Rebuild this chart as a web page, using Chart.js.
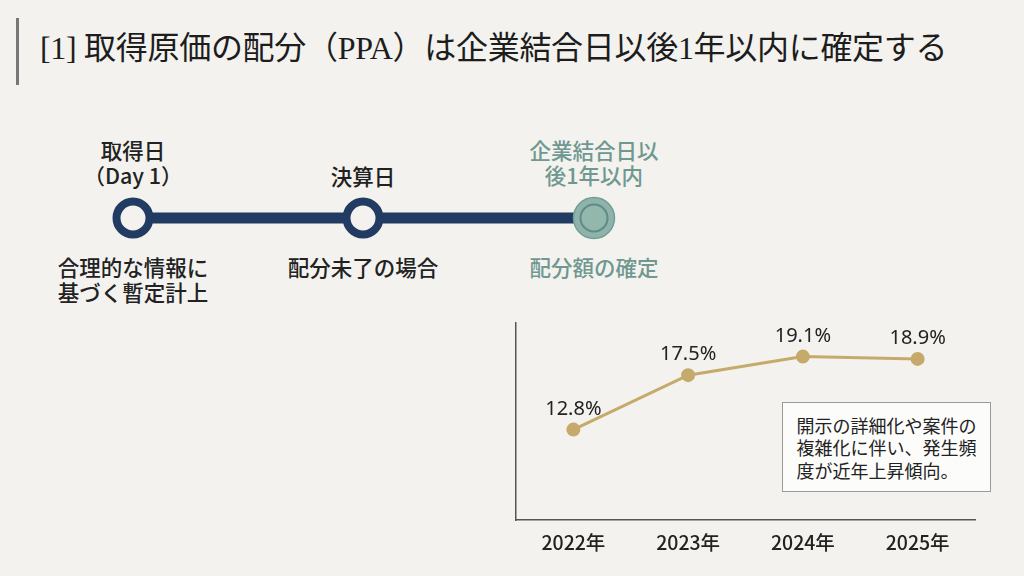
<!DOCTYPE html>
<html lang="ja">
<head>
<meta charset="utf-8">
<script src="https://cdn.jsdelivr.net/npm/chart.js@4.4.1/dist/chart.umd.min.js"></script>
<style>
  html, body { margin: 0; padding: 0; }
  body {
    width: 1024px; height: 576px; overflow: hidden; position: relative;
    background: #f3f2ee;
    font-family: "Noto Sans CJK JP", "Noto Sans", sans-serif;
    color: #222;
  }
  .bar { position: absolute; left: 16px; top: 18px; width: 3px; height: 67px; background: #777; }
  .title {
    position: absolute; left: 40px; top: 26px; font-size: 32px; line-height: 44px;
    font-family: "Liberation Serif", "Noto Sans CJK JP", serif; color: #1d1d1d;
    white-space: nowrap; letter-spacing: -0.3px; font-weight: 400;
  }
  .tl { position: absolute; left: 0; top: 0; }
  .lbl {
    position: absolute; width: 240px; margin-left: -120px; text-align: center;
    font-size: 21.5px; line-height: 25px; font-weight: 500; white-space: nowrap;
  }
  .teal { color: #6f9891; }
  #wrap { position: absolute; left: 0; top: 0; width: 1024px; height: 576px; }
  .note {
    position: absolute; left: 782px; top: 402px; width: 209px; height: 90px;
    box-sizing: border-box; border: 1.5px solid #9a9a9a; background: #fcfcfb;
    padding: 10.5px 0 0 13.5px; font-size: 18px; line-height: 22.5px; color: #222;
    white-space: nowrap;
  }
</style>
</head>
<body>
<div class="bar"></div>
<div class="title">[1] 取得原価の配分（PPA）は企業結合日以後1年以内に確定する</div>

<svg class="tl" width="1024" height="576">
  <line x1="133" y1="218" x2="594" y2="218" stroke="#213b63" stroke-width="11"/>
  <circle cx="133" cy="218" r="16.5" fill="#f3f2ee" stroke="#213b63" stroke-width="8"/>
  <circle cx="363" cy="218" r="16.5" fill="#f3f2ee" stroke="#213b63" stroke-width="8"/>
  <circle cx="594" cy="218" r="20.5" fill="#8fb3aa" stroke="#739e95" stroke-width="1.5"/>
  <circle cx="594" cy="218" r="13.5" fill="#93b6ad" stroke="#5f8c84" stroke-width="2"/>
</svg>

<div class="lbl" style="left:133px; top:137px;">取得日<br>（Day 1）</div>
<div class="lbl" style="left:363px; top:163px;">決算日</div>
<div class="lbl teal" style="left:594px; top:137px;">企業結合日以<br>後1年以内</div>
<div class="lbl" style="left:133px; top:254px;">合理的な情報に<br>基づく暫定計上</div>
<div class="lbl" style="left:363px; top:254px;">配分未了の場合</div>
<div class="lbl teal" style="left:594px; top:254px;">配分額の確定</div>

<div id="wrap"><canvas id="ppaChart"></canvas></div>
<div class="note">開示の詳細化や案件の<br>複雑化に伴い、発生頻<br>度が近年上昇傾向。</div>

<script>
  const years = ['2022年', '2023年', '2024年', '2025年'];
  const ppaRates = [12.8, 17.5, 19.1, 18.9];

  const lineColor = '#c6aa6b';
  const axisColor = '#555';

  // value labels above each point
  const valueLabels = {
    id: 'valueLabels',
    afterDatasetsDraw(chart) {
      const ctx = chart.ctx;
      const meta = chart.getDatasetMeta(0);
      ctx.save();
      ctx.font = '20px "Noto Sans", "Noto Sans CJK JP", sans-serif';
      ctx.fillStyle = '#222';
      ctx.textAlign = 'center';
      ctx.textBaseline = 'alphabetic';
      meta.data.forEach((pt, i) => {
        ctx.fillText(ppaRates[i].toFixed(1) + '%', pt.x, pt.y - 15);
      });
      ctx.restore();
    }
  };

  new Chart(document.getElementById('ppaChart'), {
    type: 'line',
    data: {
      labels: years,
      datasets: [{
        data: ppaRates,
        borderColor: lineColor,
        backgroundColor: lineColor,
        borderWidth: 3,
        pointRadius: 5.5,
        pointHoverRadius: 5.5,
        tension: 0
      }]
    },
    options: {
      responsive: true,
      maintainAspectRatio: false,
      animation: false,
      layout: { padding: { left: 516, top: 323, right: 49, bottom: 0 } },
      scales: {
        x: {
          offset: true,
          grid: { display: false },
          border: { display: true, color: axisColor, width: 1.5 },
          ticks: {
            padding: 3,
            color: '#222',
            font: { family: '"Noto Sans CJK JP", "Noto Sans", sans-serif', size: 19.5, weight: '500' }
          },
          afterFit(scale) { scale.height = 56; }
        },
        y: {
          min: 5,
          max: 22,
          grid: { display: false },
          border: { display: true, color: axisColor, width: 1.5 },
          ticks: { display: false },
          afterFit(scale) { scale.width = 0; }
        }
      },
      plugins: {
        legend: { display: false },
        tooltip: { enabled: false }
      }
    },
    plugins: [valueLabels]
  });
</script>
</body>
</html>
